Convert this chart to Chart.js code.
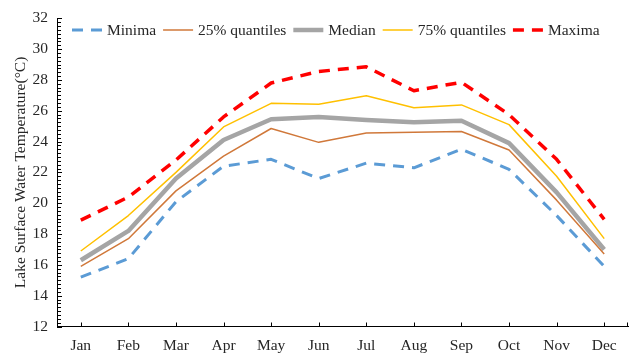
<!DOCTYPE html>
<html>
<head>
<meta charset="utf-8">
<script src="https://cdn.jsdelivr.net/npm/chart.js@4/dist/chart.umd.min.js"></script>
<style>
  html, body { margin: 0; padding: 0; background: #fff; }
  #wrap { width: 635px; height: 354px; }
</style>
</head>
<body>
<div id="wrap"><canvas id="c" width="635" height="354"></canvas></div>
<script>
// Monthly lake surface water temperature statistics (°C)
const months = ['Jan', 'Feb', 'Mar', 'Apr', 'May', 'Jun', 'Jul', 'Aug', 'Sep', 'Oct', 'Nov', 'Dec'];
const minima = [15.2, 16.4, 20.1, 22.4, 22.85, 21.6, 22.6, 22.3, 23.5, 22.2, 19.2, 15.9];
const q25    = [15.9, 17.7, 20.8, 23.05, 24.85, 23.95, 24.55, 24.6, 24.65, 23.45, 20.2, 16.7];
const median = [16.3, 18.2, 21.6, 24.1, 25.45, 25.6, 25.4, 25.25, 25.35, 23.9, 20.7, 17.0];
const q75    = [16.9, 19.2, 22.0, 24.95, 26.48, 26.42, 26.98, 26.2, 26.38, 25.1, 21.75, 17.7];
const maxima = [18.9, 20.4, 22.8, 25.6, 27.8, 28.55, 28.85, 27.3, 27.85, 25.75, 22.85, 18.95];
const yTicks = [12, 14, 16, 18, 20, 22, 24, 26, 28, 30, 32];

const FONT = '"Liberation Serif", "Times New Roman", serif';
const FSIZE = 15.5;
const TEXT = '#262626';

// Axis tick marks drawn inside the plot area, with minor ticks on the value axis
const innerTicks = {
  id: 'innerTicks',
  afterDraw(chart) {
    const { ctx, chartArea: a } = chart;
    const x = chart.scales.x, y = chart.scales.y;
    ctx.save();
    ctx.strokeStyle = '#000';
    ctx.lineWidth = 1;
    ctx.beginPath();
    for (let v = y.min; v <= y.max + 1e-9; v += 0.25) {
      const py = Math.round(y.getPixelForValue(v)) + 0.5;
      const major = Math.abs(v - Math.round(v / 2) * 2) < 1e-9;
      ctx.moveTo(a.left, py);
      ctx.lineTo(a.left + (major ? 5 : 4), py);
    }
    for (let i = 0; i < months.length; i++) {
      const px = Math.round(x.getPixelForValue(i)) + 0.5;
      ctx.moveTo(px, a.bottom);
      ctx.lineTo(px, a.bottom - 4);
    }
    ctx.moveTo(a.right - 0.5, a.bottom);
    ctx.lineTo(a.right - 0.5, a.bottom - 4);
    ctx.stroke();
    ctx.restore();
  }
};

// Single-row legend placed inside the top of the plot area
const lineLegend = {
  id: 'lineLegend',
  afterDraw(chart) {
    const { ctx } = chart;
    const yMid = 30;
    let xPos = 72;
    const sample = 30;
    ctx.save();
    ctx.font = FSIZE + 'px ' + FONT;
    ctx.textBaseline = 'middle';
    ctx.fillStyle = TEXT;
    chart.data.datasets.forEach(ds => {
      ctx.save();
      ctx.strokeStyle = ds.borderColor;
      ctx.lineWidth = ds.borderWidth;
      ctx.setLineDash(ds.borderDash || []);
      ctx.lineCap = 'butt';
      ctx.beginPath();
      ctx.moveTo(xPos, yMid);
      ctx.lineTo(xPos + sample, yMid);
      ctx.stroke();
      ctx.restore();
      xPos += sample + 5;
      ctx.fillText(ds.label, xPos, yMid + 1);
      xPos += ctx.measureText(ds.label).width + 7;
    });
    ctx.restore();
  }
};

const mk = (label, data, color, width, dash) => ({
  label, data,
  borderColor: color,
  backgroundColor: color,
  borderWidth: width,
  borderDash: dash,
  borderCapStyle: 'butt',
  borderJoinStyle: 'round',
  pointRadius: 0,
  pointHoverRadius: 0,
  tension: 0,
  fill: false
});

new Chart(document.getElementById('c'), {
  type: 'line',
  data: {
    labels: months,
    datasets: [
      mk('Minima', minima, '#5B9BD5', 3, [11, 8]),
      mk('25% quantiles', q25, '#D0783A', 1.5, []),
      mk('Median', median, '#A5A5A5', 4.5, []),
      mk('75% quantiles', q75, '#FFC000', 1.5, []),
      mk('Maxima', maxima, '#FF0000', 3.5, [11, 8])
    ]
  },
  options: {
    responsive: false,
    animation: false,
    events: [],
    layout: { padding: { left: 0, right: 7, top: 16, bottom: 0 } },
    plugins: {
      legend: { display: false },
      tooltip: { enabled: false }
    },
    scales: {
      x: {
        type: 'category',
        offset: true,
        grid: { display: false, drawTicks: false },
        border: { display: true, color: '#000', width: 1 },
        ticks: { color: TEXT, font: { family: FONT, size: FSIZE }, padding: 10, maxRotation: 0, autoSkip: false },
        afterFit(s) { s.height = 27.5; }
      },
      y: {
        min: 12,
        max: 32,
        grid: { display: false, drawTicks: false },
        border: { display: true, color: '#000', width: 1 },
        afterBuildTicks(s) { s.ticks = yTicks.map(v => ({ value: v })); },
        ticks: { color: TEXT, font: { family: FONT, size: FSIZE }, padding: 9 },
        title: {
          display: true,
          text: 'Lake Surface Water Temperature(°C)',
          color: TEXT,
          font: { family: FONT, size: FSIZE },
          padding: { top: 12, bottom: 0 }
        },
        afterFit(s) { s.width = 57; }
      }
    }
  },
  plugins: [innerTicks, lineLegend]
});
</script>
</body>
</html>
